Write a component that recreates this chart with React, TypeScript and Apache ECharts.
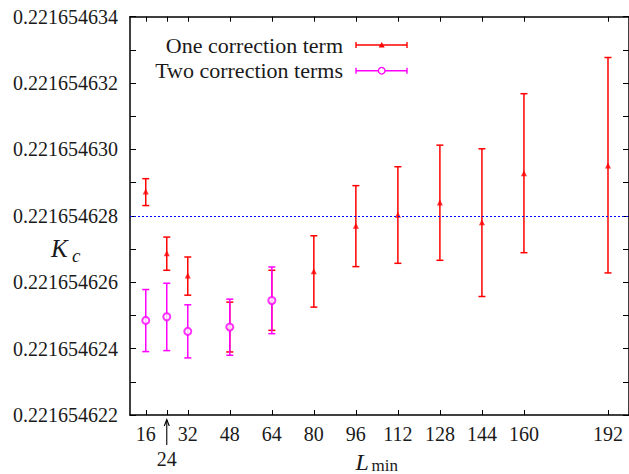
import React, { useEffect, useRef } from "react";
import * as echarts from "echarts";

// Lattice sizes L_min
const L_ONE = [16, 24, 32, 48, 64, 80, 96, 112, 128, 144, 160, 192];
// K_c values, written as the digits after "0.221654" (units of 1e-9)
const ONE_CENTER = [628.73, 626.87, 626.2, 624.65, 625.45, 626.33, 627.7, 628.03, 628.4, 627.81, 629.28, 629.52];
const ONE_LOW = [628.31, 626.36, 625.61, 623.9, 624.55, 625.25, 626.47, 626.57, 626.66, 625.57, 626.89, 626.28];
const ONE_HIGH = [629.12, 627.36, 626.76, 625.4, 626.36, 627.4, 628.91, 629.48, 630.13, 630.02, 631.68, 632.77];

const L_TWO = [16, 24, 32, 48, 64];
const TWO_CENTER = [624.85, 624.96, 624.52, 624.65, 625.45];
const TWO_LOW = [623.91, 623.94, 623.72, 623.8, 624.45];
const TWO_HIGH = [625.78, 625.97, 625.32, 625.49, 626.46];

const KC_REF = 628.0;
const Y_PREFIX = "0.221654";
const Y_MIN = 622;
const Y_MAX = 634;
const Y_LABEL_STEP = 2;
const X_MIN = 10;
const X_MAX = 200;
const X_LABELS = [16, 32, 48, 64, 80, 96, 112, 128, 144, 160, 192];
const X_TICKS = [16, 24, 32, 48, 64, 80, 96, 112, 128, 144, 160, 192];
const ARROW_TICK = 24;

const LEGEND_ONE = "One correction term";
const LEGEND_TWO = "Two correction terms";

const RED = "#ff0000";
const MAGENTA = "#ff00ff";
const FONT = "Liberation Serif";
const TEXT = "#1a1a1a";

function errorBarItem(color: string) {
  return (params: any, api: any) => {
    const x = api.value(0);
    const lo = api.coord([x, api.value(1)]);
    const hi = api.coord([x, api.value(2)]);
    const w = 3.5;
    const style = { stroke: color, lineWidth: 1.5 };
    return {
      type: "group",
      children: [
        { type: "line", shape: { x1: lo[0], y1: lo[1], x2: hi[0], y2: hi[1] }, style },
        { type: "line", shape: { x1: lo[0] - w, y1: lo[1], x2: lo[0] + w, y2: lo[1] }, style },
        { type: "line", shape: { x1: hi[0] - w, y1: hi[1], x2: hi[0] + w, y2: hi[1] }, style },
      ],
    };
  };
}

export default function App() {
  const ref = useRef<HTMLDivElement>(null);
  useEffect(() => {
    if (!ref.current) return;
    const chart = echarts.init(ref.current, null, { renderer: "svg" });
    const axisLine = { show: true, lineStyle: { color: "#000", width: 1.5 } };
    const option: any = {
      animation: false,
      backgroundColor: "#fff",
      textStyle: { fontFamily: FONT },
      grid: { left: 130, right: -1, top: 16.7, bottom: 59 },
      xAxis: [
        {
          type: "value",
          min: X_MIN,
          max: X_MAX,
          position: "bottom",
          axisLine,
          splitLine: { show: false },
          axisTick: { show: true, inside: true, length: 5, customValues: X_TICKS, lineStyle: { color: "#000", width: 1 } },
          axisLabel: {
            show: true,
            customValues: X_LABELS,
            margin: 9,
            fontFamily: FONT,
            fontSize: 20,
            color: TEXT,
          },
        },
        {
          type: "value",
          min: X_MIN,
          max: X_MAX,
          position: "top",
          axisLine,
          splitLine: { show: false },
          axisTick: { show: true, inside: true, length: 5, customValues: X_TICKS, lineStyle: { color: "#000", width: 1 } },
          axisLabel: { show: false },
        },
      ],
      yAxis: [
        {
          type: "value",
          min: Y_MIN,
          max: Y_MAX,
          interval: 1,
          position: "left",
          axisLine,
          splitLine: { show: false },
          axisTick: { show: true, inside: true, length: 6, lineStyle: { color: "#000", width: 1 } },
          axisLabel: {
            show: true,
            margin: 12,
            fontFamily: FONT,
            fontSize: 20,
            color: TEXT,
            formatter: (v: number) => {
              const r = Math.round(v);
              return (r - Y_MIN) % Y_LABEL_STEP === 0 ? Y_PREFIX + r : "";
            },
          },
        },
        {
          type: "value",
          min: Y_MIN,
          max: Y_MAX,
          interval: 1,
          position: "right",
          axisLine,
          splitLine: { show: false },
          axisTick: { show: true, inside: true, length: 6, lineStyle: { color: "#000", width: 1 } },
          axisLabel: { show: false },
        },
      ],
      series: [
        {
          type: "custom",
          name: LEGEND_ONE,
          renderItem: errorBarItem(RED),
          data: L_ONE.map((x, i) => [x, ONE_LOW[i], ONE_HIGH[i]]),
          z: 2,
          markLine: {
            silent: true,
            symbol: "none",
            label: { show: false },
            lineStyle: { color: "#0000ff", type: [2, 2], width: 1.2 },
            data: [{ yAxis: KC_REF }],
          },
        },
        {
          type: "scatter",
          name: LEGEND_ONE,
          symbol: "triangle",
          symbolSize: 6,
          itemStyle: { color: RED },
          data: L_ONE.map((x, i) => [x, ONE_CENTER[i]]),
          z: 3,
        },
        {
          type: "custom",
          name: LEGEND_TWO,
          renderItem: errorBarItem(MAGENTA),
          data: L_TWO.map((x, i) => [x, TWO_LOW[i], TWO_HIGH[i]]),
          z: 4,
        },
        {
          type: "scatter",
          name: LEGEND_TWO,
          symbol: "emptyCircle",
          symbolSize: 7,
          itemStyle: { color: MAGENTA, borderColor: MAGENTA, borderWidth: 1.3 },
          data: L_TWO.map((x, i) => [x, TWO_CENTER[i]]),
          z: 5,
        },
      ],
    };
    chart.setOption(option);

    const ax = chart.convertToPixel({ xAxisIndex: 0 }, ARROW_TICK) as number;
    const by = chart.convertToPixel({ yAxisIndex: 0 }, Y_MIN) as number;
    const gx0 = chart.convertToPixel({ xAxisIndex: 0 }, X_MIN) as number;
    const gx1 = chart.convertToPixel({ xAxisIndex: 0 }, X_MAX) as number;
    const midX = (gx0 + gx1) / 2;

    const legendLine = (y: number, color: string) => [
      { type: "line", shape: { x1: 356, y1: y, x2: 407, y2: y }, style: { stroke: color, lineWidth: 1.4 } },
      { type: "line", shape: { x1: 356, y1: y - 3, x2: 356, y2: y + 3 }, style: { stroke: color, lineWidth: 1.4 } },
      { type: "line", shape: { x1: 407, y1: y - 3, x2: 407, y2: y + 3 }, style: { stroke: color, lineWidth: 1.4 } },
    ];

    const txt = (x: number, y: number, text: string, size: number, extra: any = {}) => ({
      type: "text",
      x,
      y,
      style: {
        text,
        verticalAlign: "middle",
        fontFamily: FONT,
        fontSize: size,
        fill: TEXT,
        ...extra,
      },
    });

    chart.setOption({
      graphic: [
        // legend
        txt(343, 45, LEGEND_ONE, 22, { align: "right" }),
        ...legendLine(45, RED),
        {
          type: "polygon",
          shape: { points: [[378.7, 47.5], [384.7, 47.5], [381.7, 42]] },
          style: { fill: RED },
        },
        txt(343, 70.7, LEGEND_TWO, 22, { align: "right" }),
        ...legendLine(70.7, MAGENTA),
        {
          type: "circle",
          shape: { cx: 381.7, cy: 70.7, r: 3.3 },
          style: { fill: "#fff", stroke: MAGENTA, lineWidth: 1.3 },
        },
        // y-axis title K_c
        txt(51, 248.5, "K", 25, { fontStyle: "italic" }),
        txt(72, 255, "c", 19, { fontStyle: "italic" }),
        // x-axis title L_min
        txt(midX - 24, 462, "L", 24, { fontStyle: "italic" }),
        txt(midX - 8, 465.5, "min", 17),
        // arrow to the 24 tick
        {
          type: "line",
          shape: { x1: ax, y1: by + 30, x2: ax, y2: by + 5 },
          style: { stroke: "#000", lineWidth: 1.1 },
        },
        {
          type: "polyline",
          shape: { points: [[ax - 2.5, by + 11], [ax, by + 4.5], [ax + 2.5, by + 11]] },
          style: { stroke: "#000", lineWidth: 1.1, fill: "none" },
        },
        txt(ax, by + 44, String(ARROW_TICK), 20, { align: "center" }),
      ],
    });
    return () => chart.dispose();
  }, []);
  return (
    <div
      ref={ref}
      style={{ position: "fixed", left: 0, top: 0, width: 629, height: 474, background: "#fff" }}
    />
  );
}
